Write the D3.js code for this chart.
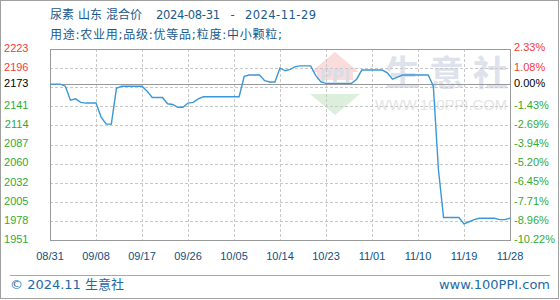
<!DOCTYPE html>
<html>
<head>
<meta charset="utf-8">
<script src="https://cdn.jsdelivr.net/npm/d3@7"></script>
<style>
  html, body { margin: 0; padding: 0; background: #fff; }
  svg { display: block; }
</style>
</head>
<body>
<svg id="chart" width="560" height="300"></svg>
<script>
// ---- data ----
const titleMain = "尿素 山东 混合价";
const titleDates = ["2024-08-31", "-", "2024-11-29"];
const subtitle = "用途:农业用;品级:优等品;粒度:中小颗粒;";
const basePrice = 2173;
const prices = [
  2173,2173,2173,2170,2150,2152,2147,2146,2146,2146,
  2126,2116,2116,2167,2170,2170,2170,2170,2170,2163,
  2154,2154,2154,2145,2144,2140,2140,2146,2147,2152,
  2155,2155,2155,2155,2155,2155,2155,2155,2184,2186,
  2186,2186,2178,2176,2176,2196,2192,2194,2198,2199,
  2199,2199,2185,2176,2174,2174,2174,2174,2174,2174,
  2180,2193,2193,2193,2193,2193,2189,2180,2183,2186,
  2186,2186,2186,2186,2186,2170,2051,1983,1983,1983,
  1983,1974,1977,1980,1982,1982,1982,1982,1980,1980,
  1982
];
const xTickLabels = ["08/31","09/08","09/17","09/26","10/05","10/14","10/23","11/01","11/10","11/19","11/28"];
const leftTickLabels = ["2223","2196","2173","2141","2114","2087","2060","2032","2005","1978","1951"];
const rightTickLabels = ["2.33%","1.08%","0.00%","-1.43%","-2.69%","-3.94%","-5.20%","-6.45%","-7.71%","-8.96%","-10.22%"];
const yDomain = [1951, 2223];
const footerLeft = "© 2024.11 生意社";
const footerRight = "www.100PPI.com";
const watermarkCn = "生意社";
const watermarkEn = "WWW.100PPI.COM";

// ---- layout ----
const svg = d3.select("#chart");
const L = 50, R = 510, T = 49, B = 240;
const x = d3.scaleLinear().domain([0, prices.length - 1]).range([L, R]);
const y = d3.scaleLinear().domain(yDomain).range([B, T]);
const red = "#f23b3b", green = "#33aa33", blue = "#1a5a8c";
const axisFont = "'Liberation Sans', Arial, sans-serif";
const cjkFont = "'DejaVu Sans', 'Noto Sans CJK SC', sans-serif";

// outer border
svg.append("rect").attr("x", 0.5).attr("y", 0.5).attr("width", 558).attr("height", 298)
  .attr("fill", "#fff").attr("stroke", "#a0a0a0");

// titles
svg.append("text").attr("x", 50).attr("y", 15).attr("dominant-baseline", "middle")
  .attr("font-family", cjkFont).attr("font-size", 12).attr("fill", blue)
  .attr("textLength", 92).attr("lengthAdjust", "spacing").text(titleMain);
svg.append("text").attr("x", 156).attr("y", 15).attr("dominant-baseline", "middle")
  .attr("font-family", cjkFont).attr("font-size", 11.5).attr("fill", blue)
  .attr("textLength", 64).attr("lengthAdjust", "spacing").text(titleDates[0]);
svg.append("text").attr("x", 232.5).attr("y", 15).attr("dominant-baseline", "middle")
  .attr("text-anchor", "middle")
  .attr("font-family", cjkFont).attr("font-size", 11.5).attr("fill", blue).text(titleDates[1]);
svg.append("text").attr("x", 245).attr("y", 15).attr("dominant-baseline", "middle")
  .attr("font-family", cjkFont).attr("font-size", 11.5).attr("fill", blue)
  .attr("textLength", 71).attr("lengthAdjust", "spacing").text(titleDates[2]);
svg.append("text").attr("x", 50).attr("y", 35).attr("dominant-baseline", "middle")
  .attr("font-family", cjkFont).attr("font-size", 12).attr("fill", blue)
  .attr("textLength", 232).attr("lengthAdjust", "spacing").text(subtitle);

// watermark
const wm = svg.append("g");
wm.append("path").attr("d", "M335,52 L359,72 L353,72 L353,80 L317,80 L317,72 L311,72 Z").attr("fill", "#fadcdc");
wm.append("path").attr("d", "M310,94 L360,94 L335,115 Z").attr("fill", "#dcefdc");
wm.append("text").attr("x", 335).attr("y", 82).attr("text-anchor", "middle")
  .attr("font-family", "'DejaVu Sans', sans-serif").attr("font-weight", "bold")
  .attr("font-size", 17).attr("fill", "#d9dde9").text("PPI");
wm.append("text").attr("x", 385).attr("y", 86)
  .attr("font-family", "'Noto Sans CJK SC', sans-serif").attr("font-weight", "bold").attr("font-size", 35)
  .attr("fill", "#dde2ec").attr("textLength", 123).attr("lengthAdjust", "spacing").text(watermarkCn);
wm.append("text").attr("x", 375).attr("y", 110)
  .attr("font-family", "'Liberation Sans', sans-serif").attr("font-size", 14)
  .attr("fill", "#e4e4e4").attr("textLength", 132).attr("lengthAdjust", "spacingAndGlyphs").text(watermarkEn);

// grid
const gridVals = d3.range(1, 10).map(i => yDomain[0] + i * (yDomain[1] - yDomain[0]) / 10);
svg.append("g").selectAll("line").data(gridVals).join("line")
  .attr("x1", L).attr("x2", R).attr("y1", d => Math.round(y(d)) + 0.5).attr("y2", d => Math.round(y(d)) + 0.5)
  .attr("stroke", "#c8c8c8").attr("stroke-dasharray", "3,2");
const xTickIdx = xTickLabels.map((_, i) => i * (prices.length - 1) / (xTickLabels.length - 1));
svg.append("g").selectAll("line").data(xTickIdx.slice(1, -1)).join("line")
  .attr("x1", d => Math.round(x(d)) + 0.5).attr("x2", d => Math.round(x(d)) + 0.5)
  .attr("y1", T).attr("y2", B)
  .attr("stroke", "#c8c8c8").attr("stroke-dasharray", "3,2");

// base line
svg.append("line").attr("x1", L).attr("x2", R)
  .attr("y1", Math.round(y(basePrice)) + 0.5).attr("y2", Math.round(y(basePrice)) + 0.5)
  .attr("stroke", "#999").attr("stroke-width", 1);

// plot frame
svg.append("rect").attr("x", L + 0.5).attr("y", T + 0.5).attr("width", R - L).attr("height", B - T)
  .attr("fill", "none").attr("stroke", "#999");

// price line
svg.append("path").datum(prices)
  .attr("d", d3.line().x((d, i) => x(i)).y(d => y(d)))
  .attr("fill", "none").attr("stroke", "#3a98d8").attr("stroke-width", 1.4);

// left axis labels
const colorFor = v => v > 0 ? red : (v < 0 ? green : "#000");
svg.append("g").selectAll("text").data(leftTickLabels).join("text")
  .attr("x", 28.5).attr("y", d => y(+d)).attr("text-anchor", "end").attr("dominant-baseline", "middle")
  .attr("font-family", axisFont).attr("font-size", 11)
  .attr("fill", d => colorFor(+d - basePrice)).text(d => d);

// right axis labels
svg.append("g").selectAll("text").data(rightTickLabels).join("text")
  .attr("x", 514).attr("y", d => y(basePrice * (1 + parseFloat(d) / 100)))
  .attr("dominant-baseline", "middle")
  .attr("font-family", axisFont).attr("font-size", 11)
  .attr("fill", d => colorFor(parseFloat(d))).text(d => d);

// x axis labels
svg.append("g").selectAll("text").data(xTickLabels).join("text")
  .attr("x", (d, i) => x(xTickIdx[i])).attr("y", 257).attr("text-anchor", "middle").attr("dominant-baseline", "middle")
  .attr("font-family", axisFont).attr("font-size", 11).attr("fill", "#0f4f82").text(d => d);

// footer
svg.append("line").attr("x1", 10).attr("x2", 550).attr("y1", 275.5).attr("y2", 275.5)
  .attr("stroke", "#a8a8a8").attr("stroke-width", 1.2);
svg.append("text").attr("x", 10).attr("y", 285).attr("dominant-baseline", "middle")
  .attr("font-family", cjkFont).attr("font-size", 13).attr("fill", "#1d6aa5").text(footerLeft);
svg.append("text").attr("x", 550).attr("y", 285).attr("text-anchor", "end").attr("dominant-baseline", "middle")
  .attr("font-family", cjkFont).attr("font-size", 13).attr("fill", "#1d6aa5").text(footerRight);
</script>
</body>
</html>
